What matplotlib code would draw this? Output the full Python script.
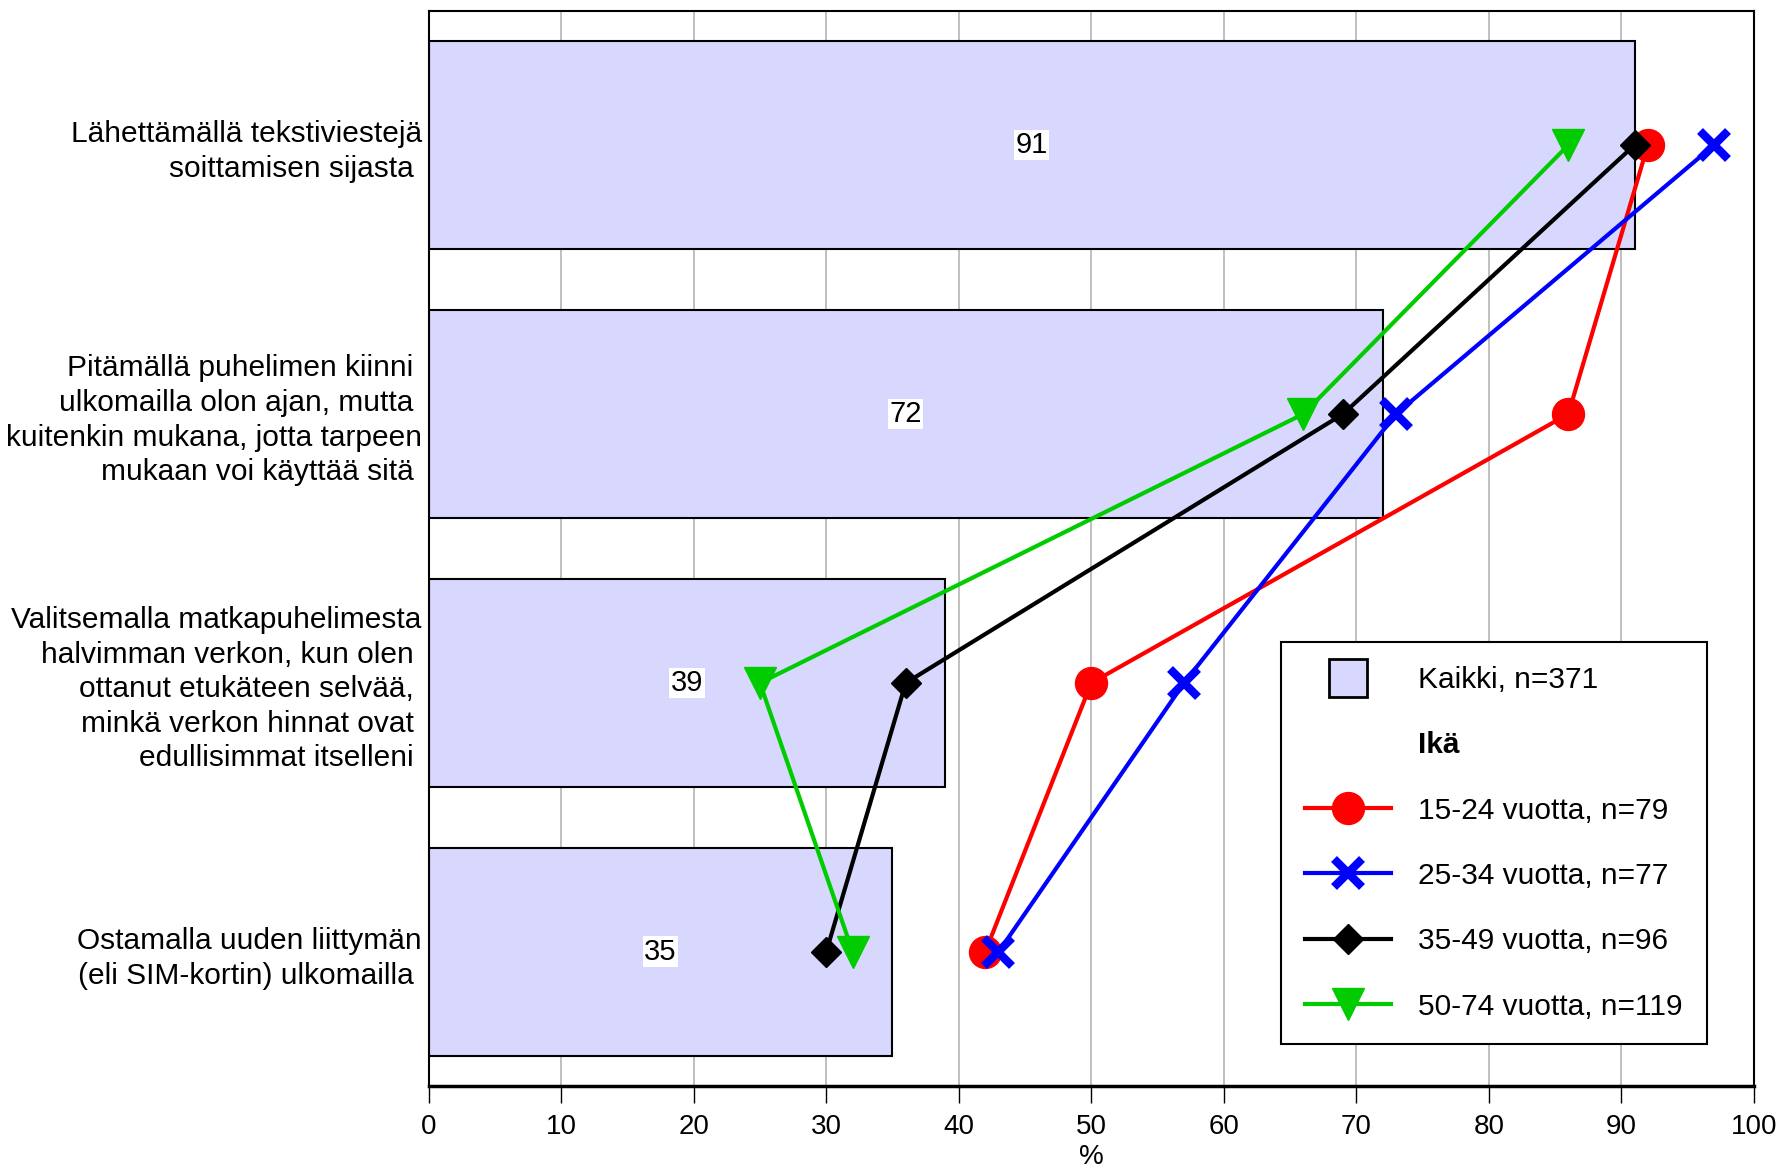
import matplotlib
matplotlib.use('Agg')
import matplotlib.pyplot as plt
from matplotlib.lines import Line2D

plt.rcParams['font.family'] = ['Liberation Sans', 'DejaVu Sans']
plt.rcParams['font.size'] = 21

# Väittämät (y-akselin nimikkeet)
categories = [
    'Lähettämällä tekstiviestejä\nsoittamisen sijasta ',
    'Pitämällä puhelimen kiinni \nulkomailla olon ajan, mutta \nkuitenkin mukana, jotta tarpeen\nmukaan voi käyttää sitä ',
    'Valitsemalla matkapuhelimesta\nhalvimman verkon, kun olen \nottanut etukäteen selvää, \nminkä verkon hinnat ovat \nedullisimmat itselleni ',
    'Ostamalla uuden liittymän\n(eli SIM-kortin) ulkomailla ',
]

# Kaikki vastaajat (pylväät)
kaikki = [91, 72, 39, 35]

# Ikäryhmät (viivat)
age_15_24 = [92, 86, 50, 42]
age_25_34 = [97, 73, 57, 43]
age_35_49 = [91, 69, 36, 30]
age_50_74 = [86, 66, 25, 32]

labels = ['Kaikki, n=371', 'Ikä', '15-24 vuotta, n=79', '25-34 vuotta, n=77',
          '35-49 vuotta, n=96', '50-74 vuotta, n=119']

bar_color = '#D8D8FF'

fig = plt.figure(figsize=(17.86, 11.72), dpi=100)
ax = fig.add_axes([0.240, 0.073, 0.742, 0.918])

y = list(range(len(categories)))

ax.barh(y, kaikki, height=0.77, color=bar_color, edgecolor='black', linewidth=1.5, zorder=2)
for yi, v in zip(y, kaikki):
    ax.text(v / 2, yi, str(v), ha='center', va='center', fontsize=21, zorder=3,
            bbox=dict(facecolor='white', edgecolor='none', pad=1))

lw = 3
ax.plot(age_15_24, y, color='#FF0000', lw=lw, marker='o', ms=23, zorder=4)
ax.plot(age_25_34, y, color='#0000FF', lw=lw, marker='x', ms=20, mew=6, zorder=5)
ax.plot(age_35_49, y, color='black', lw=lw, marker='D', ms=15, zorder=6)
ax.plot(age_50_74, y, color='#00CC00', lw=lw, marker='v', ms=23, zorder=7)

ax.set_xlim(0, 100)
ax.set_ylim(3.5, -0.5)
ax.set_xticks(range(0, 101, 10))
ax.set_yticks(y)
ax.set_yticklabels(categories, fontsize=21.5, linespacing=1.3)
ax.tick_params(axis='y', length=0, pad=5)
ax.tick_params(axis='x', length=12, width=1, direction='out', pad=8, labelsize=20)
ax.set_xlabel('%', fontsize=20, labelpad=3)
ax.grid(axis='x', color='#b4b4b4', linewidth=1.2, zorder=0)
ax.set_axisbelow(True)
for s in ax.spines.values():
    s.set_linewidth(1.5)
ax.spines['bottom'].set_linewidth(2.5)

handles = [
    Line2D([], [], linestyle='none', marker='s', ms=27, mfc=bar_color, mec='black', mew=2),
    Line2D([], [], linestyle='none'),
    Line2D([], [], color='#FF0000', lw=lw, marker='o', ms=23),
    Line2D([], [], color='#0000FF', lw=lw, marker='x', ms=20, mew=6),
    Line2D([], [], color='black', lw=lw, marker='D', ms=15),
    Line2D([], [], color='#00CC00', lw=lw, marker='v', ms=23),
]
leg = ax.legend(handles, labels, loc='lower left', bbox_to_anchor=(0.643, 0.039),
                fontsize=21.5, frameon=True, fancybox=False, framealpha=1,
                edgecolor='black', handlelength=2.9, handletextpad=0.9,
                labelspacing=1.25, borderpad=0.8, borderaxespad=0)
leg.get_frame().set_linewidth(1.5)
leg.get_texts()[1].set_fontweight('bold')

fig.savefig('out.png', dpi=100)
